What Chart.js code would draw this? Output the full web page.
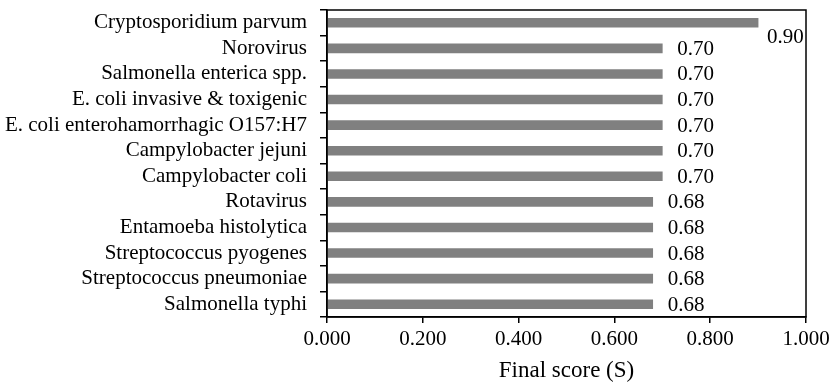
<!DOCTYPE html>
<html>
<head>
<meta charset="utf-8">
<script src="https://cdn.jsdelivr.net/npm/chart.js@4.4.0/dist/chart.umd.min.js"></script>
<style>
  html, body { margin: 0; padding: 0; background: #fff; }
  #wrap { width: 835px; height: 383px; }
</style>
</head>
<body>
<div id="wrap"><canvas id="scoreChart"></canvas></div>
<script>
// pathogens and their final score
var pathogens = [
  "Cryptosporidium parvum",
  "Norovirus",
  "Salmonella enterica spp.",
  "E. coli invasive & toxigenic",
  "E. coli enterohamorrhagic O157:H7",
  "Campylobacter jejuni",
  "Campylobacter coli",
  "Rotavirus",
  "Entamoeba histolytica",
  "Streptococcus pyogenes",
  "Streptococcus pneumoniae",
  "Salmonella typhi"
];
var scores = [0.90, 0.70, 0.70, 0.70, 0.70, 0.70, 0.70, 0.68, 0.68, 0.68, 0.68, 0.68];
var xTicks = [0, 0.2, 0.4, 0.6, 0.8, 1.0];

var serif = "'Liberation Serif', 'Times New Roman', serif";
Chart.defaults.font.family = serif;
Chart.defaults.color = "#000";

// value labels at bar ends + box round the plot
var barExtras = {
  id: "barExtras",
  afterDraw: function(chart) {
    var ctx = chart.ctx;
    var a = chart.chartArea;
    var meta = chart.getDatasetMeta(0);
    ctx.save();
    ctx.font = "21px " + serif;
    ctx.fillStyle = "#000";
    ctx.textBaseline = "middle";
    ctx.textAlign = "left";
    meta.data.forEach(function(bar, i) {
      var txt = scores[i].toFixed(2);
      var w = ctx.measureText(txt).width;
      var x = bar.x + 15, y = bar.y + 1;
      if (x + w > a.right - 2) { // no room: drop below the bar
        x = bar.x + 9;
        y = bar.y + 15;
      }
      ctx.fillText(txt, x, y);
    });
    ctx.strokeStyle = "#000";
    ctx.lineWidth = 1.5;
    ctx.strokeRect(a.left, a.top, a.right - a.left, a.bottom - a.top);
    ctx.restore();
  }
};

new Chart("scoreChart", {
  type: "bar",
  data: {
    labels: pathogens,
    datasets: [{
      data: scores,
      backgroundColor: "#808080",
      barThickness: 9
    }]
  },
  options: {
    indexAxis: "y",
    responsive: true,
    maintainAspectRatio: false,
    animation: false,
    layout: { padding: { top: 10, right: 29, left: 0, bottom: 0 } },
    plugins: { legend: { display: false }, tooltip: { enabled: false } },
    scales: {
      x: {
        min: 0,
        max: 1,
        afterBuildTicks: function(axis) {
          axis.ticks = xTicks.map(function(v) { return { value: v }; });
        },
        afterFit: function(axis) { axis.height = 66; },
        grid: { drawOnChartArea: false, drawTicks: true, tickLength: 6, color: "#000", lineWidth: 1.5 },
        border: { color: "#000", width: 1.5 },
        ticks: {
          font: { size: 21 },
          padding: 4,
          maxRotation: 0,
          callback: function(v) { return Number(v).toFixed(3); }
        },
        title: {
          display: true,
          text: "Final score (S)",
          font: { size: 23, lineHeight: 1 },
          padding: { top: 0, bottom: 1 }
        }
      },
      y: {
        afterFit: function(axis) {
          axis.width = 327;
          axis.paddingTop = 0;
          axis.paddingBottom = 0;
        },
        grid: { drawOnChartArea: false, drawTicks: true, tickLength: 7, color: "#000", lineWidth: 1.5, offset: true },
        border: { color: "#000", width: 1.5 },
        ticks: { font: { size: 21 }, padding: 13, autoSkip: false }
      }
    }
  },
  plugins: [barExtras]
});
</script>
</body>
</html>
